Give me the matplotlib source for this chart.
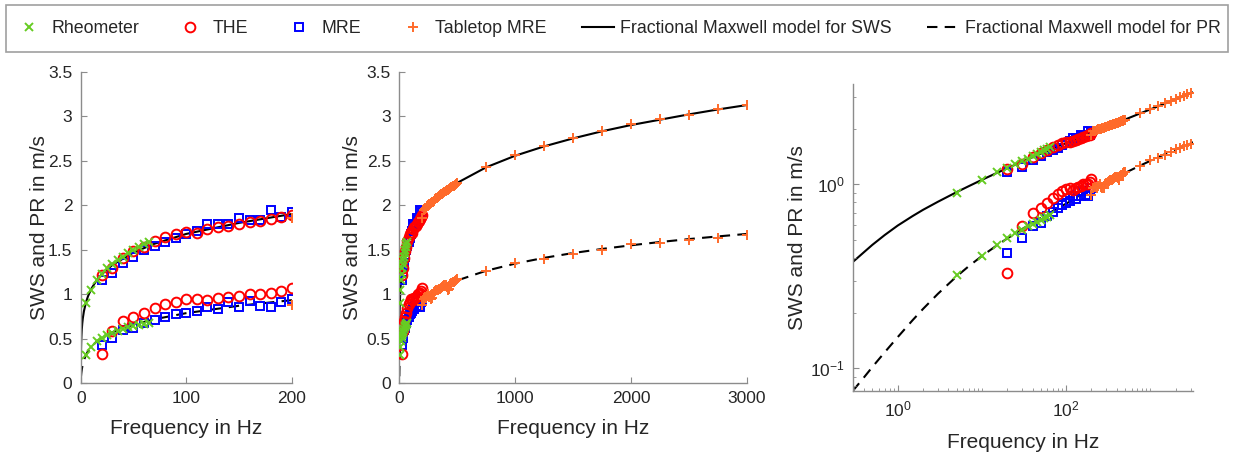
import numpy as np
import matplotlib
matplotlib.use("Agg")
import matplotlib.pyplot as plt
from matplotlib.lines import Line2D
from matplotlib.patches import Rectangle
from matplotlib.ticker import FixedLocator, LogFormatterSciNotation, NullFormatter

plt.rcParams['font.family'] = ['Liberation Sans', 'DejaVu Sans']

# ---------------- data ----------------
# Rheometer
f_rheo = [5, 10, 15, 20, 25, 30, 35, 40, 45, 50, 55, 60, 65]
sws_rheo = [0.90, 1.05, 1.16, 1.23, 1.29, 1.34, 1.38, 1.42, 1.46, 1.50, 1.53, 1.56, 1.59]
pr_rheo = [0.32, 0.41, 0.47, 0.51, 0.545, 0.565, 0.59, 0.61, 0.625, 0.64, 0.655, 0.665, 0.68]

# THE
f_the = [20, 30, 40, 50, 60, 70, 80, 90, 100, 110, 120, 130, 140, 150, 160, 170, 180, 190, 200]
sws_the = [1.21, 1.29, 1.41, 1.48, 1.53, 1.60, 1.645, 1.675, 1.70, 1.69, 1.73, 1.75, 1.77,
           1.79, 1.81, 1.825, 1.845, 1.865, 1.89]
pr_the = [0.33, 0.59, 0.70, 0.74, 0.79, 0.84, 0.89, 0.915, 0.94, 0.95, 0.935, 0.955, 0.97,
          0.98, 1.00, 1.00, 1.01, 1.035, 1.065]

# MRE
f_mre = [20, 30, 40, 50, 60, 70, 80, 90, 100, 110, 120, 130, 140, 150, 160, 170, 180, 190, 200]
sws_mre = [1.16, 1.24, 1.35, 1.42, 1.49, 1.545, 1.58, 1.63, 1.675, 1.71, 1.79, 1.79, 1.79,
           1.85, 1.835, 1.835, 1.945, 1.865, 1.92]
pr_mre = [0.425, 0.51, 0.595, 0.615, 0.67, 0.71, 0.74, 0.775, 0.79, 0.815, 0.86, 0.835, 0.915,
          0.86, 0.925, 0.87, 0.86, 0.915, 0.95]

# Tabletop MRE
f_tab = [200, 210, 220, 230, 240, 250, 260, 270, 280, 290, 300, 310, 320, 330, 340, 350,
         360, 370, 380, 390, 400, 410, 420, 430, 440, 450, 460, 470, 480, 490, 500,
         750, 1000, 1250, 1500, 1750, 2000, 2250, 2500, 2750, 3000]
sws_tab = [1.86, 1.95, 1.96, 1.97, 1.99, 2.00, 2.01, 2.02, 2.03, 2.04, 2.05, 2.07, 2.08, 2.09,
           2.10, 2.11, 2.12, 2.13, 2.14, 2.15, 2.16, 2.165, 2.17, 2.18, 2.19, 2.20, 2.21, 2.22,
           2.23, 2.24, 2.25,
           2.43, 2.56, 2.665, 2.76, 2.83, 2.91, 2.97, 3.01, 3.08, 3.13]
pr_tab = [0.88, 0.95, 0.97, 0.96, 0.98, 1.00, 0.97, 0.95, 0.96, 1.00, 1.02, 1.03, 1.04, 1.05,
          1.06, 1.06, 1.07, 1.08, 1.09, 1.10, 1.10, 1.08, 1.05, 1.06, 1.11, 1.12, 1.13, 1.14,
          1.15, 1.16, 1.17,
          1.26, 1.35, 1.395, 1.45, 1.49, 1.56, 1.57, 1.61, 1.635, 1.665]

# Fractional Maxwell model curves
f_model = [0.29, 0.4, 0.5, 0.7, 1, 1.5, 2, 3, 5, 7, 10, 15, 20, 30, 50, 70, 100, 150, 200,
           300, 400, 500, 750, 1000, 1250, 1500, 1750, 2000, 2250, 2500, 2750, 3000, 3200]
sws_model = [0.377, 0.429, 0.469, 0.530, 0.597, 0.672, 0.727, 0.804, 0.907, 0.978, 1.058,
             1.153, 1.223, 1.327, 1.467, 1.566, 1.676, 1.80, 1.90, 2.05, 2.16, 2.25, 2.425,
             2.555, 2.66, 2.75, 2.83, 2.90, 2.96, 3.02, 3.075, 3.125, 3.16]
pr_model = [0.075, 0.0896, 0.1017, 0.1222, 0.1478, 0.1825, 0.2104, 0.2541, 0.3158, 0.3594,
            0.4078, 0.4654, 0.508, 0.5713, 0.6566, 0.7171, 0.7855, 0.8684, 0.9313, 1.025,
            1.096, 1.153, 1.262, 1.342, 1.407, 1.461, 1.507, 1.548, 1.585, 1.618, 1.648,
            1.676, 1.697]

labels = ["Rheometer", "THE", "MRE", "Tabletop MRE",
          "Fractional Maxwell model for SWS", "Fractional Maxwell model for PR"]

# ---------------- styles ----------------
C_GREEN = '#66cc22'
C_RED = '#ff0000'
C_BLUE = '#0000ff'
C_ORANGE = '#ff6a2a'
AX_COL = '#8c8c8c'
TXT_COL = '#262626'
DASH = (0, (5, 3.5))

sty_rheo = dict(ls='none', marker='x', ms=5.5, mew=1.4, color=C_GREEN, zorder=4)
sty_the = dict(ls='none', marker='o', ms=7, mew=1.4, mfc='none', color=C_RED, zorder=3)
sty_mre = dict(ls='none', marker='s', ms=6, mew=1.4, mfc='none', color=C_BLUE, zorder=2)
sty_tab = dict(ls='none', marker='+', ms=7, mew=1.4, color=C_ORANGE, zorder=5)
sty_sws = dict(ls='-', lw=1.5, color='black', zorder=1)
sty_pr = dict(ls=DASH, lw=1.5, color='black', zorder=1)

W, H = 1234, 457
fig = plt.figure(figsize=(W / 100, H / 100), dpi=100)


def px_axes(x0, y0, x1, y1):
    return fig.add_axes([x0 / W, 1 - y1 / H, (x1 - x0) / W, (y1 - y0) / H])


def draw(ax):
    ax.plot(f_model, sws_model, **sty_sws)
    ax.plot(f_model, pr_model, **sty_pr)
    ax.plot(f_mre, sws_mre, **sty_mre)
    ax.plot(f_mre, pr_mre, **sty_mre)
    ax.plot(f_the, sws_the, **sty_the)
    ax.plot(f_the, pr_the, **sty_the)
    ax.plot(f_rheo, sws_rheo, **sty_rheo)
    ax.plot(f_rheo, pr_rheo, **sty_rheo)
    ax.plot(f_tab, sws_tab, **sty_tab)
    ax.plot(f_tab, pr_tab, **sty_tab)


def style(ax, ylab_x, xlab_y):
    for s in ['top', 'right']:
        ax.spines[s].set_visible(False)
    for s in ['left', 'bottom']:
        ax.spines[s].set_color(AX_COL)
        ax.spines[s].set_linewidth(1.0)
    ax.tick_params(which='both', direction='in', color=AX_COL, labelcolor=TXT_COL,
                   labelsize=12.5)
    ax.tick_params(which='major', length=4, pad=6)
    ax.tick_params(which='minor', length=2.5)
    ax.set_xlabel("Frequency in Hz", fontsize=15, color=TXT_COL)
    ax.set_ylabel("SWS and PR in m/s", fontsize=15, color=TXT_COL)
    ax.xaxis.set_label_coords(0.5, xlab_y)
    ax.yaxis.set_label_coords(ylab_x, 0.5)
    ax.xaxis.label.set_va('center')
    ax.yaxis.label.set_va('center')


def fmt_lin(v, pos):
    return f"{v:g}"


# Panel 1
ax1 = px_axes(80.7, 71.7, 291.7, 383)
draw(ax1)
ax1.set_xlim(0, 200)
ax1.set_ylim(0, 3.5)
ax1.set_xticks([0, 100, 200])
ax1.set_yticks(np.arange(0, 3.51, 0.5))
ax1.yaxis.set_major_formatter(plt.FuncFormatter(fmt_lin))
style(ax1, (40 - 80.7) / 211, (383 - 428) / 311.3)

# Panel 2
ax2 = px_axes(399.3, 71.7, 746.7, 383)
draw(ax2)
ax2.set_xlim(0, 3000)
ax2.set_ylim(0, 3.5)
ax2.set_xticks([0, 1000, 2000, 3000])
ax2.set_yticks(np.arange(0, 3.51, 0.5))
ax2.yaxis.set_major_formatter(plt.FuncFormatter(fmt_lin))
style(ax2, (352 - 399.3) / 347.4, (383 - 429) / 311.3)

# Panel 3 (log-log)
ax3 = px_axes(852.7, 84, 1192.7, 391)
draw(ax3)
ax3.set_xscale('log')
ax3.set_yscale('log')
ax3.set_xlim(0.292, 3185)
ax3.set_ylim(0.0753, 3.51)
ax3.xaxis.set_major_locator(FixedLocator([1, 100]))
ax3.xaxis.set_major_formatter(LogFormatterSciNotation())
xmin = [m * 10.0 ** k for k in range(-1, 4) for m in range(1, 10)]
xmin = [v for v in xmin if v not in (1, 100)]
ax3.xaxis.set_minor_locator(FixedLocator(xmin))
ax3.xaxis.set_minor_formatter(NullFormatter())
ax3.yaxis.set_major_locator(FixedLocator([0.1, 1]))
ax3.yaxis.set_major_formatter(LogFormatterSciNotation())
ymin = [m * 10.0 ** k for k in range(-2, 1) for m in range(1, 10)]
ymin = [v for v in ymin if v not in (0.1, 1)]
ax3.yaxis.set_minor_locator(FixedLocator(ymin))
ax3.yaxis.set_minor_formatter(NullFormatter())
style(ax3, (797 - 852.7) / 340, (391 - 443) / 307)

# Legend frame
frame = Rectangle((6 / W, 1 - 52 / H), (1228 - 6) / W, 47 / H, transform=fig.transFigure,
                  facecolor='white', edgecolor='#a0a0a0', lw=1.2, zorder=0)
fig.patches.append(frame)

# Legend
handles = [Line2D([], [], **sty_rheo), Line2D([], [], **sty_the),
           Line2D([], [], **sty_mre), Line2D([], [], **sty_tab),
           Line2D([], [], **sty_sws), Line2D([], [], **sty_pr)]
leg = fig.legend(handles, labels, ncol=6, loc='center left',
                 bbox_to_anchor=(13 / W, 1 - 52 / H, (1221 - 13) / W, 47 / H),
                 mode='expand', fontsize=12.8, frameon=False,
                 handlelength=1.8, handletextpad=0.35, borderaxespad=0, borderpad=0,
                 columnspacing=1.0)
for t in leg.get_texts():
    t.set_color(TXT_COL)

fig.savefig("out.png", dpi=100)
